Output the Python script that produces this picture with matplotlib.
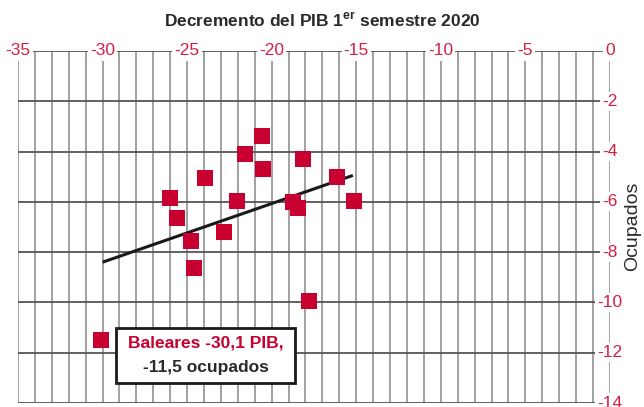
import numpy as np
import matplotlib.pyplot as plt

plt.rcParams['font.family'] = ['Liberation Sans', 'DejaVu Sans']

# Decremento del PIB (x) vs ocupados (y)
pib = [-20.6, -21.6, -18.15, -20.5, -23.95, -16.15, -26.0, -22.05,
       -18.75, -18.45, -15.15, -25.6, -22.8, -24.75, -24.6, -17.8, -30.1]
ocupados = [-3.4, -4.1, -4.3, -4.7, -5.05, -5.0, -5.85, -5.95,
            -6.0, -6.25, -5.95, -6.65, -7.2, -7.55, -8.65, -9.95, -11.5]

trend_x = [-30.0, -15.2]
trend_y = [-8.4, -4.95]

x_ticks = [-35, -30, -25, -20, -15, -10, -5, 0]
y_ticks = [0, -2, -4, -6, -8, -10, -12, -14]

red = '#d41f45'
point_red = '#c8002f'
grid_col = '#9a9a9a'

fig = plt.figure(figsize=(6.44, 4.07), dpi=100)
ax = fig.add_axes([0.028, 0.0098, 0.919, 0.865])
ax.set_xlim(-35, 0)
ax.set_ylim(-14, 0)

# grid
for xv in range(-35, 1):
    ax.plot([xv, xv], [-14, 0], color=grid_col, lw=1.3, zorder=1)
for yv in y_ticks:
    ax.plot([-35, 0], [yv, yv], color='#555555', lw=1.3, zorder=1)

for s in ax.spines.values():
    s.set_visible(False)
ax.set_xticks([])
ax.set_yticks([])

ax.plot(trend_x, trend_y, color='#1a1a1a', lw=2.2, zorder=3, solid_capstyle='butt')
ax.scatter(pib, ocupados, marker='s', s=120, color=point_red, linewidths=0, zorder=4)

# tick labels sitting on the top and right lines
for xv in x_ticks:
    ax.text(xv, 0, '%d' % xv, color=red, fontsize=12.5, ha='center', va='center',
            bbox=dict(facecolor='white', edgecolor='none', pad=1.5), zorder=5, clip_on=False)
for yv in y_ticks[1:]:
    ax.text(0, yv, '%d' % yv, color=red, fontsize=12.5, ha='center', va='center',
            bbox=dict(facecolor='white', edgecolor='none', pad=1.5), zorder=5, clip_on=False)

fig.text(0.5, 0.948, 'Decremento del PIB 1$^{\\mathregular{er}}$ semestre 2020',
         ha='center', va='center', fontsize=12.5, fontweight='bold', color='#2a2a2a')
fig.text(0.982, 0.445, 'Ocupados', rotation=90, ha='center', va='center',
         fontsize=14, color='#2a2a2a')

# annotation box
ax.text(-23.9, -11.63, 'Baleares -30,1 PIB,', color=point_red, fontsize=12.5,
        fontweight='bold', ha='center', va='center', zorder=7)
ax.text(-23.9, -12.6, '-11,5 ocupados', color='#2a2a2a', fontsize=12.5,
        fontweight='bold', ha='center', va='center', zorder=7)
ax.add_patch(plt.Rectangle((-29.2, -13.2), 10.6, 2.18, facecolor='white',
                           edgecolor='#1a1a1a', lw=2, zorder=6))

fig.savefig('out.png', dpi=100)
